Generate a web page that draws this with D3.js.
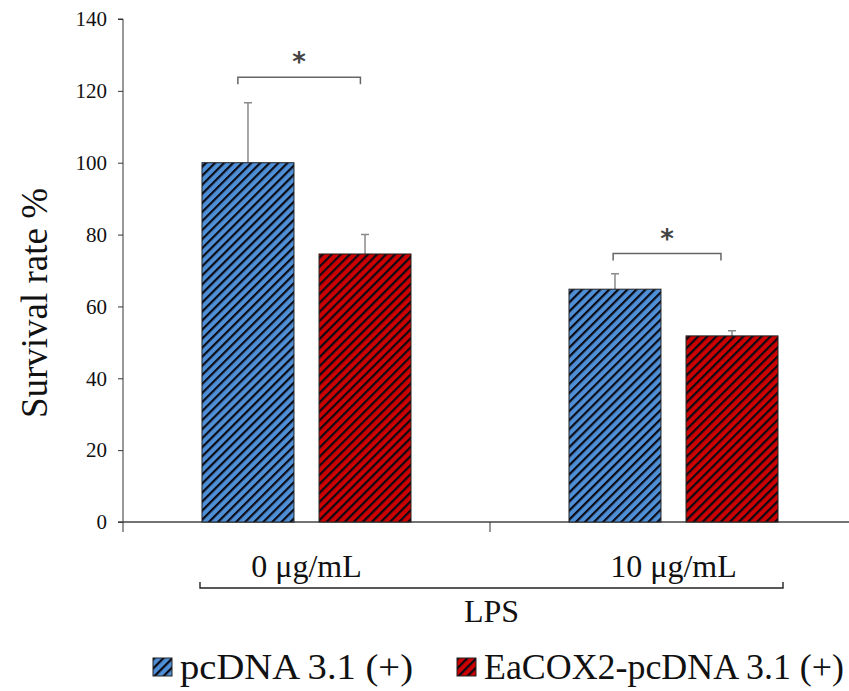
<!DOCTYPE html>
<html>
<head>
<meta charset="utf-8">
<script src="https://cdn.jsdelivr.net/npm/d3@7"></script>
<style>
  body { margin: 0; background: #fff; }
  svg { display: block; font-family: "Liberation Serif", "Times New Roman", serif; }
</style>
</head>
<body>
<svg id="chart" width="849" height="691"></svg>
<script>
const groups = ["0 μg/mL", "10 μg/mL"];
const series = ["pcDNA 3.1 (+)", "EaCOX2-pcDNA 3.1 (+)"];
const means = [[100, 74.6], [64.8, 51.8]];
const errors = [[16.7, 5.4], [4.3, 1.4]];
const colors = ["#4f8fd6", "#cc0000"];
const yTicks = [0, 20, 40, 60, 80, 100, 120, 140];
const sig = [{ group: 0, y: 123.8, label: "*" }, { group: 1, y: 74.7, label: "*" }];

const svg = d3.select("#chart");
const margin = { top: 19, left: 123, bottom: 522 };

const x = d3.scaleBand(groups, [margin.left, margin.left + 734]);
const xs = d3.scaleBand(series, [0, x.bandwidth()]).paddingInner(0.214).paddingOuter(0.675);
const y = d3.scaleLinear([0, 140], [margin.bottom, margin.top]);

// hatch patterns
const defs = svg.append("defs");
colors.forEach((c, i) => {
  const p = defs.append("pattern")
    .attr("id", "hatch" + i)
    .attr("patternUnits", "userSpaceOnUse")
    .attr("width", 6.4).attr("height", 6.4)
    .attr("patternTransform", "rotate(45)");
  p.append("rect").attr("width", 6.4).attr("height", 6.4).attr("fill", c);
  p.append("line").attr("x1", 0).attr("x2", 0).attr("y1", 0).attr("y2", 6.4)
    .attr("stroke", "#0a0a14").attr("stroke-width", 4.4);
});

// y axis
svg.append("g")
  .attr("transform", `translate(${margin.left},0)`)
  .call(d3.axisLeft(y).tickValues(yTicks).tickSize(5).tickPadding(11))
  .call(g => g.select(".domain").attr("stroke", "#333").attr("d", `M-5,${y(140)}H0V${margin.bottom + 10}`))
  .call(g => g.selectAll(".tick line").attr("stroke", "#333"))
  .call(g => g.selectAll(".tick text").attr("font-size", 21).attr("fill", "#111").attr("font-family", "Liberation Serif"));

// x axis
svg.append("g")
  .attr("transform", `translate(0,${margin.bottom})`)
  .call(d3.axisBottom(x).tickValues([]).tickSize(0))
  .call(g => g.select(".domain").attr("stroke", "#444").attr("stroke-width", 1.3)
    .attr("d", `M${margin.left - 5},0H849`))
  .call(g => g.append("line").attr("x1", x(groups[1])).attr("x2", x(groups[1]))
    .attr("y1", 0).attr("y2", 10).attr("stroke", "#333"));

// bars
const gGroups = svg.append("g").selectAll("g")
  .data(groups)
  .join("g")
  .attr("transform", d => `translate(${x(d)},0)`);

gGroups.selectAll("path.err")
  .data((d, gi) => series.map((s, si) => ({ s, si, v: means[gi][si], e: errors[gi][si] })))
  .join("path")
  .attr("class", "err")
  .attr("fill", "none")
  .attr("stroke", "#8a8a8a")
  .attr("stroke-width", 1.5)
  .attr("d", d => {
    const cx = xs(d.s) + xs.bandwidth() / 2;
    return `M${cx},${y(d.v)}V${y(d.v + d.e)}M${cx - 4},${y(d.v + d.e)}H${cx + 4}`;
  });

gGroups.selectAll("rect")
  .data((d, gi) => series.map((s, si) => ({ s, si, v: means[gi][si] })))
  .join("rect")
  .attr("x", d => xs(d.s))
  .attr("width", xs.bandwidth())
  .attr("y", d => y(d.v))
  .attr("height", d => y(0) - y(d.v))
  .attr("fill", d => `url(#hatch${d.si})`)
  .attr("stroke", "#222")
  .attr("stroke-width", 1);

// significance brackets (ends sit at a fraction of each bar's width)
const bracketEnds = [[0.39, 0.45], [0.48, 0.38]];
sig.forEach((s, i) => {
  const g0 = x(groups[s.group]);
  const x1 = g0 + xs(series[0]) + xs.bandwidth() * bracketEnds[i][0];
  const x2 = g0 + xs(series[1]) + xs.bandwidth() * bracketEnds[i][1];
  const yy = y(s.y);
  svg.append("path")
    .attr("fill", "none").attr("stroke", "#666").attr("stroke-width", 1.5)
    .attr("d", `M${x1},${yy + 7}V${yy}H${x2}V${yy + 7}`);
  svg.append("text")
    .attr("x", (x1 + x2) / 2).attr("y", yy - 6)
    .attr("text-anchor", "middle")
    .attr("font-size", 26).attr("font-weight", "bold").attr("fill", "#444")
    .attr("font-family", "DejaVu Sans")
    .text(s.label);
});

// group labels
svg.append("g").selectAll("text")
  .data(groups)
  .join("text")
  .attr("x", d => x(d) + x.bandwidth() / 2)
  .attr("y", 577)
  .attr("text-anchor", "middle")
  .attr("font-size", 32)
  .attr("fill", "#111")
  .text(d => d);

// LPS bracket
const bx1 = x(groups[0]) + xs(series[0]) - 2;
const bx2 = x(groups[1]) + xs(series[1]) + xs.bandwidth() + 5;
svg.append("path")
  .attr("fill", "none").attr("stroke", "#222").attr("stroke-width", 1.4)
  .attr("d", `M${bx1},${582}V${588}H${bx2}V${582}`);
svg.append("text")
  .attr("x", (bx1 + bx2) / 2).attr("y", 622)
  .attr("text-anchor", "middle")
  .attr("font-size", 32).attr("fill", "#111")
  .text("LPS");

// y title
svg.append("text")
  .attr("transform", "translate(47,303) rotate(-90)")
  .attr("text-anchor", "middle")
  .attr("font-size", 37).attr("fill", "#111")
  .text("Survival rate %");

// legend
const legendX = [153, 457];
const legendW = [233, 360];
const leg = svg.append("g").selectAll("g")
  .data(series)
  .join("g")
  .attr("transform", (d, i) => `translate(${legendX[i]},658)`);
leg.append("rect")
  .attr("width", 19).attr("height", 18)
  .attr("fill", (d, i) => `url(#hatch${i})`)
  .attr("stroke", "#222").attr("stroke-width", 1);
leg.append("text")
  .attr("x", 27).attr("y", 21)
  .attr("font-size", 36).attr("fill", "#111")
  .attr("textLength", (d, i) => legendW[i])
  .attr("lengthAdjust", "spacingAndGlyphs")
  .text(d => d);
</script>
</body>
</html>
